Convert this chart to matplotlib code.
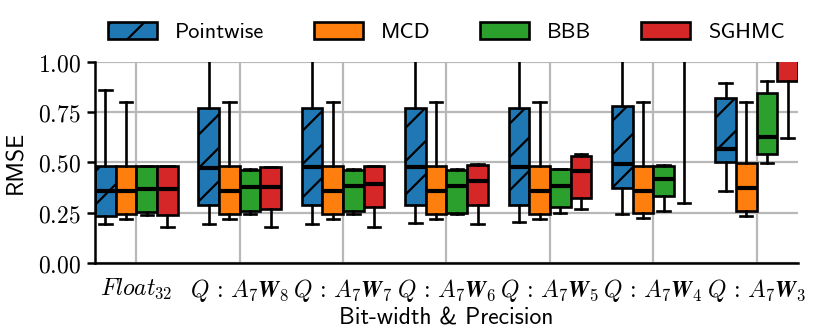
import matplotlib
matplotlib.use("Agg")
import matplotlib.pyplot as plt
from matplotlib.patches import Patch

plt.rcParams['mathtext.fontset'] = 'cm'
plt.rcParams['hatch.linewidth'] = 0.8

# ---------------- data ----------------
tick_labels = [r'$Float_{32}$',
               r'$Q\,:\,A_7\mathbfit{W}_{\mathbf{8}}$',
               r'$Q\,:\,A_7\mathbfit{W}_{\mathbf{7}}$',
               r'$Q\,:\,A_7\mathbfit{W}_{\mathbf{6}}$',
               r'$Q\,:\,A_7\mathbfit{W}_{\mathbf{5}}$',
               r'$Q\,:\,A_7\mathbfit{W}_{\mathbf{4}}$',
               r'$Q\,:\,A_7\mathbfit{W}_{\mathbf{3}}$']
methods = ['Pointwise', 'MCD', 'BBB', 'SGHMC']

pointwise_lo = [0.195, 0.195, 0.195, 0.198, 0.203, 0.245, 0.357]
pointwise_q1 = [0.235, 0.287, 0.287, 0.287, 0.290, 0.372, 0.500]
pointwise_med = [0.357, 0.473, 0.477, 0.477, 0.478, 0.495, 0.568]
pointwise_q3 = [0.485, 0.770, 0.770, 0.770, 0.773, 0.780, 0.823]
pointwise_hi = [0.862, 1.200, 1.200, 1.200, 1.200, 1.200, 0.896]

mcd_lo = [0.220, 0.220, 0.220, 0.220, 0.220, 0.223, 0.232]
mcd_q1 = [0.245, 0.245, 0.245, 0.245, 0.245, 0.248, 0.260]
mcd_med = [0.357, 0.357, 0.357, 0.357, 0.357, 0.360, 0.375]
mcd_q3 = [0.485, 0.485, 0.485, 0.485, 0.485, 0.485, 0.497]
mcd_hi = [0.800, 0.800, 0.800, 0.800, 0.800, 0.800, 0.800]

bbb_lo = [0.240, 0.245, 0.245, 0.245, 0.248, 0.260, 0.497]
bbb_q1 = [0.253, 0.260, 0.260, 0.250, 0.277, 0.332, 0.543]
bbb_med = [0.370, 0.380, 0.382, 0.382, 0.382, 0.418, 0.625]
bbb_q3 = [0.485, 0.465, 0.465, 0.465, 0.470, 0.485, 0.845]
bbb_hi = [0.485, 0.470, 0.470, 0.470, 0.470, 0.488, 0.905]

sghmc_lo = [0.178, 0.180, 0.180, 0.195, 0.268, 0.300, 0.620]
sghmc_q1 = [0.237, 0.270, 0.278, 0.287, 0.323, 1.050, 0.907]
sghmc_med = [0.370, 0.380, 0.393, 0.410, 0.457, 1.150, 1.100]
sghmc_q3 = [0.482, 0.478, 0.482, 0.490, 0.532, 1.250, 1.300]
sghmc_hi = [0.485, 0.480, 0.485, 0.495, 0.543, 1.350, 1.500]

yticks = [0.0, 0.25, 0.5, 0.75, 1.0]
ytick_labels = ['0.00', '0.25', '0.50', '0.75', '1.00']

series = [
    (pointwise_lo, pointwise_q1, pointwise_med, pointwise_q3, pointwise_hi),
    (mcd_lo, mcd_q1, mcd_med, mcd_q3, mcd_hi),
    (bbb_lo, bbb_q1, bbb_med, bbb_q3, bbb_hi),
    (sghmc_lo, sghmc_q1, sghmc_med, sghmc_q3, sghmc_hi),
]
colors = ['#1f77b4', '#ff7f0e', '#2ca02c', '#d62728']
hatches = ['//', None, None, None]
offsets = [-0.3, -0.1, 0.1, 0.3]

# ---------------- plot ----------------
fig = plt.figure(figsize=(4.15, 1.66), dpi=200)
ax = fig.add_axes([0.1145, 0.2078, 0.8469, 0.6055])
ax.set_axisbelow(True)

sans = 'cmss10'
edge_lw = 0.95
for (lo, q1, med, q3, hi), col, h, off in zip(series, colors, hatches, offsets):
    stats = []
    for i in range(len(tick_labels)):
        stats.append(dict(whislo=lo[i], q1=q1[i], med=med[i], q3=q3[i], whishi=hi[i], fliers=[]))
    pos = [i + off for i in range(len(tick_labels))]
    bp = ax.bxp(stats, positions=pos, widths=0.2, patch_artist=True, showfliers=False,
                capwidths=0.12,
                boxprops=dict(facecolor=col, edgecolor='black', linewidth=edge_lw),
                medianprops=dict(color='black', linewidth=1.5),
                whiskerprops=dict(color='black', linewidth=edge_lw),
                capprops=dict(color='black', linewidth=edge_lw),
                manage_ticks=False)
    for b in bp['boxes']:
        if h:
            b.set_hatch(h)

ax.set_xlim(-0.4, len(tick_labels) - 0.6)
ax.set_ylim(0, 1.0)
ax.set_xticks(range(len(tick_labels)))
ax.set_xticklabels(tick_labels, fontsize=8.5)
ax.set_yticks(yticks)
ax.set_yticklabels(['$' + t + '$' for t in ytick_labels], fontsize=8.5)
ax.tick_params(axis='x', length=0, pad=5)
ax.tick_params(axis='y', length=3, width=0.9, pad=2)
ax.grid(True, color='#b8b8b8', linewidth=0.8)
for s in ['top', 'right']:
    ax.spines[s].set_visible(False)
for s in ['left', 'bottom']:
    ax.spines[s].set_linewidth(0.9)

ax.set_ylabel('RMSE', fontfamily=sans, fontsize=8.5, labelpad=4)
ax.set_xlabel('Bit-width & Precision', fontfamily=sans, fontsize=8.5, labelpad=1.2)

handles = [Patch(facecolor=c, edgecolor='black', hatch=h, linewidth=edge_lw, label=m)
           for c, h, m in zip(colors, hatches, methods)]
ax.legend(handles=handles, loc='center', bbox_to_anchor=(0.5, 1.15), ncol=4, frameon=False,
          prop=dict(family=sans, size=8), handlelength=2.2, handleheight=0.8,
          handletextpad=0.8, columnspacing=2.25)

fig.savefig('out.png', dpi=200)
